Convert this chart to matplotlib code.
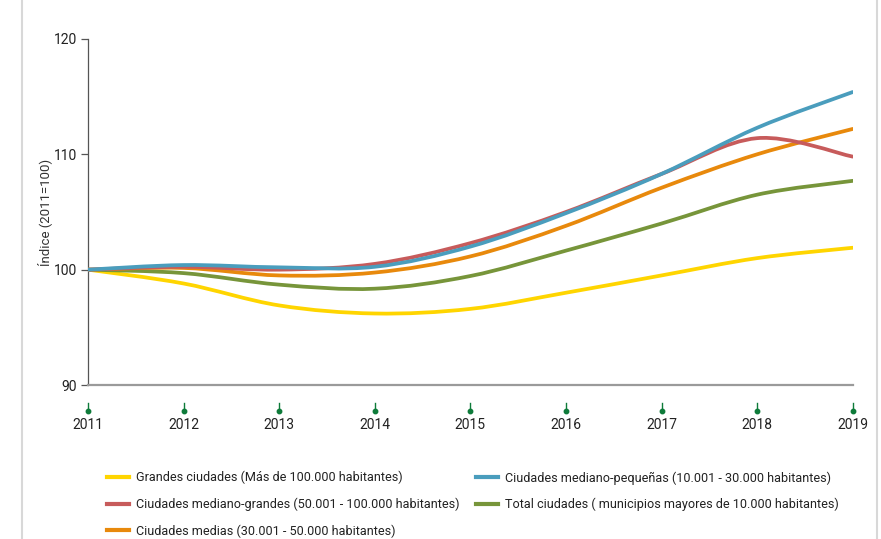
import matplotlib
matplotlib.use("Agg")
import matplotlib.pyplot as plt
import numpy as np
from matplotlib.path import Path
from matplotlib.patches import PathPatch
from matplotlib.lines import Line2D
import matplotlib.transforms as mtransforms

plt.rcParams['font.family'] = ['Roboto', 'DejaVu Sans']

years = [2011, 2012, 2013, 2014, 2015, 2016, 2017, 2018, 2019]

grandes = [100.0, 98.8, 96.9, 96.2, 96.6, 98.0, 99.5, 101.0, 101.9]
mediano_grandes = [100.0, 100.25, 100.0, 100.5, 102.3, 105.0, 108.3, 111.4, 109.8]
medias = [100.0, 100.15, 99.5, 99.75, 101.15, 103.8, 107.1, 110.0, 112.2]
mediano_pequenas = [100.0, 100.4, 100.2, 100.25, 102.0, 104.9, 108.3, 112.3, 115.4]
total = [100.0, 99.7, 98.7, 98.35, 99.45, 101.65, 104.0, 106.5, 107.7]

labels = [
    "Grandes ciudades (Más de 100.000 habitantes)",
    "Ciudades mediano-grandes (50.001 - 100.000 habitantes)",
    "Ciudades medias (30.001 - 50.000 habitantes)",
    "Ciudades mediano-pequeñas (10.001 - 30.000 habitantes)",
    "Total ciudades ( municipios mayores de 10.000 habitantes)",
]
series = [grandes, mediano_grandes, medias, mediano_pequenas, total]
colors = ["#FFD500", "#C75B5B", "#E8890C", "#4A9DBD", "#77953A"]
draw_order = [0, 4, 2, 1, 3]


def smooth_path(x, y, t=0.5):
    # catmull-rom through the points, as cubic bezier segments
    x = np.asarray(x, float)
    y = np.asarray(y, float)
    pts = np.column_stack([x, y])
    verts = [pts[0]]
    codes = [Path.MOVETO]
    n = len(pts)
    for i in range(n - 1):
        p0 = pts[i - 1] if i > 0 else pts[i]
        p1 = pts[i]
        p2 = pts[i + 1]
        p3 = pts[i + 2] if i + 2 < n else pts[i + 1]
        c1 = p1 + (p2 - p0) * t / 3
        c2 = p2 - (p3 - p1) * t / 3
        verts += [c1, c2, p2]
        codes += [Path.CURVE4] * 3
    return Path(verts, codes)


fig = plt.figure(figsize=(8.81, 5.39), dpi=100)
ax = fig.add_axes([0.0999, 0.2857, 0.868, 0.642])

for i in draw_order:
    patch = PathPatch(smooth_path(years, series[i]), facecolor="none",
                      edgecolor=colors[i], lw=2.7, capstyle="round", zorder=3)
    ax.add_patch(patch)

ax.set_xlim(2011, 2019)
ax.set_ylim(90, 120)
ax.set_yticks([90, 100, 110, 120])
ax.set_xticks(years)
ax.set_xticklabels([str(y) for y in years])

for s in ["top", "right"]:
    ax.spines[s].set_visible(False)
ax.spines["left"].set_color("#555555")
ax.spines["left"].set_linewidth(0.9)
ax.spines["bottom"].set_color("#9a9a9a")
ax.spines["bottom"].set_linewidth(1.6)

ax.tick_params(axis="y", length=5, width=0.9, color="#555555", labelsize=10, pad=3, labelcolor="#222222")
ax.tick_params(axis="x", length=0, labelsize=10, pad=24, labelcolor="#222222")
ax.set_ylabel("Índice (2011=100)", fontsize=9.5, color="#333333", labelpad=1)

# small green markers under each year
trans = mtransforms.blended_transform_factory(ax.transData, ax.transAxes)
for yr in years:
    ax.plot([yr, yr], [-0.052, -0.072], color="#0E7B3A", lw=1.0, transform=trans, clip_on=False)
    ax.plot([yr], [-0.075], marker="o", ms=3.2, color="#0E7B3A", transform=trans, clip_on=False)

handles = [Line2D([0], [0], color=colors[i], lw=3) for i in range(5)]
fig.legend(handles, labels, loc="upper left", bbox_to_anchor=(0.121, 0.126),
           ncol=2, frameon=False, fontsize=9.1, handlelength=1.8, handletextpad=0.5,
           columnspacing=1.3, labelspacing=1.05, borderaxespad=0, borderpad=0,
           labelcolor="#222222")

# light frame lines at the sides
fig.add_artist(Line2D([0.025, 0.025], [0, 1], color="#d8d8d8", lw=1.5, transform=fig.transFigure))
fig.add_artist(Line2D([0.996, 0.996], [0, 1], color="#d8d8d8", lw=1.5, transform=fig.transFigure))

fig.savefig("out.png", dpi=100)
